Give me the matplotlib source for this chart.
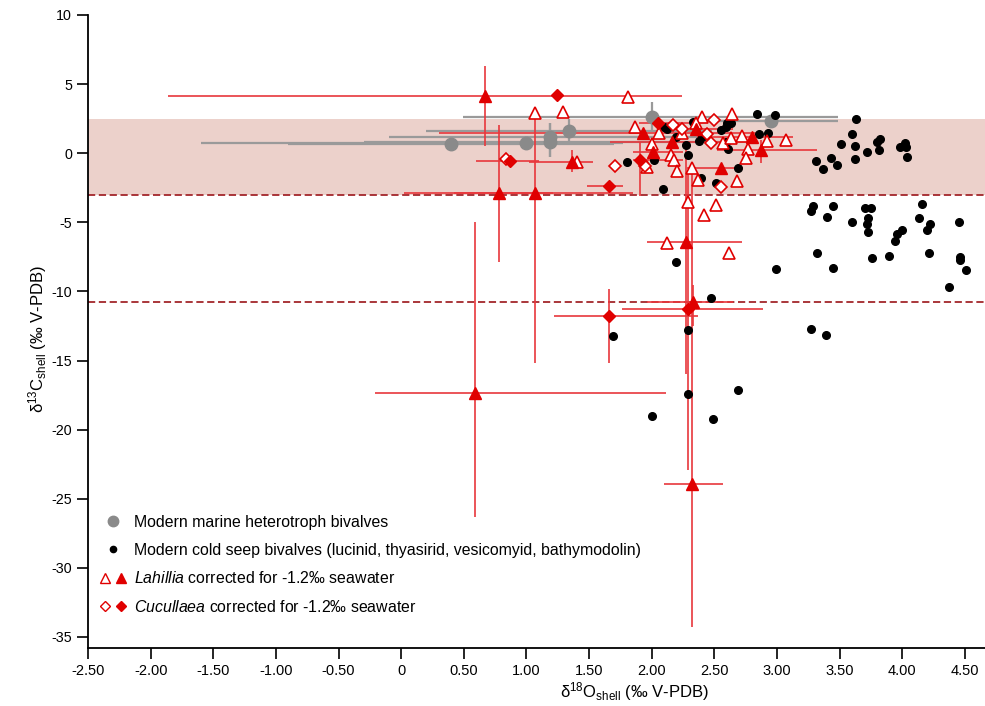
import numpy as np
import matplotlib.pyplot as plt
from matplotlib.lines import Line2D
from matplotlib.legend_handler import HandlerTuple

plt.rcParams['font.family'] = ['Liberation Sans', 'DejaVu Sans']
plt.rcParams['mathtext.fontset'] = 'custom'
plt.rcParams['mathtext.rm'] = 'Liberation Sans'
plt.rcParams['mathtext.it'] = 'Liberation Sans:italic'
plt.rcParams['axes.unicode_minus'] = False

# modern marine heterotroph bivalves (grey), with ends of the error ranges
het_x = np.array([0.40, 1.00, 1.19, 1.19, 1.34, 2.00, 2.95])
het_y = np.array([0.66, 0.74, 1.19, 0.79, 1.60, 2.60, 2.30])
het_xlo = np.array([-0.90, -1.60, -0.10, -0.30, 0.20, 0.49, 2.40])
het_xhi = np.array([1.70, 1.77, 2.48, 2.68, 2.48, 3.49, 3.49])
het_ylo = np.array([0.20, 0.40, -0.25, -0.25, 0.70, 1.60, 1.80])
het_yhi = np.array([1.10, 1.10, 2.16, 2.16, 2.50, 3.70, 2.80])

# modern cold seep bivalves (black)
seep_x = np.array([2.84, 2.98, 2.33, 2.10, 2.12, 2.60, 2.63, 2.59, 2.55, 2.86, 2.93, 2.38,
                   2.40, 2.27, 2.19, 2.61, 2.59, 2.29, 2.69, 2.39, 2.51, 2.09, 1.80, 2.02,
                   3.63, 3.60, 3.51, 3.62, 3.80, 3.82, 3.72, 3.81, 3.98, 4.02, 4.03, 4.04,
                   3.62, 3.43, 3.31, 3.37, 3.48,
                   3.29, 3.27, 3.45, 3.40, 3.70, 3.75, 3.73, 3.72, 3.73, 3.60, 4.16, 4.13,
                   4.22, 4.20, 4.00, 3.96, 3.94, 4.45, 3.32, 3.76, 3.89, 4.21, 4.46, 4.46,
                   4.51, 2.99, 3.45, 4.37, 3.27, 3.39, 2.19, 2.47, 2.29, 1.69, 2.00, 2.29,
                   2.69, 2.49])
seep_y = np.array([2.84, 2.76, 2.28, 1.87, 1.78, 2.16, 2.22, 1.92, 1.68, 1.37, 1.48, 0.90,
                   1.19, 0.59, 1.19, 0.28, 0.83, -0.13, -1.05, -1.82, -2.13, -2.60, -0.61, -0.49,
                   2.47, 1.39, 0.64, 0.54, 0.83, 1.00, 0.09, 0.25, 0.47, 0.72, 0.47, -0.25,
                   -0.42, -0.35, -0.54, -1.14, -0.88,
                   -3.80, -4.18, -3.84, -4.59, -3.94, -3.94, -4.71, -5.15, -5.72, -4.98, -3.65, -4.66,
                   -5.10, -5.56, -5.56, -5.87, -6.35, -5.00, -7.24, -7.56, -7.41, -7.24, -7.49, -7.75,
                   -8.47, -8.40, -8.28, -9.70, -12.70, -13.15, -7.90, -10.50, -12.77, -13.20, -19.00, -17.40,
                   -17.10, -19.20])

# Lahillia, filled triangles (with error ranges)
lah_x = np.array([0.67, 0.78, 1.07, 0.59, 2.32, 2.27, 2.33, 1.36, 1.93, 2.01, 2.16, 2.35, 2.80, 2.87, 2.55])
lah_y = np.array([4.14, -2.90, -2.90, -17.35, -23.90, -6.40, -10.75, -0.65, 1.47, 0.11, 0.83, 1.73, 1.15, 0.23, -1.09])
lah_xlo = np.array([-1.86, 0.02, 0.42, -0.21, 2.10, 1.96, 1.96, 1.02, 0.30, 1.85, 1.67, 2.05, 2.36, 2.52, 2.28])
lah_xhi = np.array([2.24, 1.85, 1.21, 2.11, 2.57, 2.72, 2.65, 1.53, 2.84, 2.25, 2.65, 2.65, 3.13, 3.32, 2.73])
lah_ylo = np.array([0.55, -7.85, -15.20, -26.30, -34.30, -16.00, -12.50, -1.34, 1.47, 0.11, 0.83, 1.73, 1.15, -0.70, -1.09])
lah_yhi = np.array([6.30, 2.04, 2.60, -5.00, -1.20, 0.40, -9.50, 0.23, 1.47, 0.11, 0.83, 1.73, 1.15, 0.95, -1.09])

# Lahillia, open triangles
lah_open_x = np.array([1.81, 1.07, 1.29, 1.87, 2.06, 2.40, 2.64, 2.72, 3.07, 2.92, 2.77, 2.75, 2.68, 1.40, 2.00,
                       2.15, 2.18, 2.20, 1.96, 2.32, 2.37, 2.29, 2.51, 2.42, 2.12, 2.62, 2.57, 2.63, 2.35, 2.24])
lah_open_y = np.array([4.09, 2.89, 2.95, 1.92, 1.44, 2.62, 2.84, 1.22, 0.97, 0.86, 0.30, -0.37, -2.03, -0.65, 0.66,
                       -0.13, -0.49, -1.26, -1.02, -1.09, -1.92, -3.50, -3.75, -4.47, -6.47, -7.25, 0.71, 1.08, 2.16, 1.44])

# Cucullaea, filled diamonds (with error ranges)
cuc_x = np.array([1.24, 0.87, 1.66, 1.66, 2.29, 2.05, 1.91])
cuc_y = np.array([4.22, -0.55, -2.35, -11.78, -11.30, 2.16, -0.46])
cuc_xlo = np.array([1.24, 0.60, 1.48, 1.22, 1.76, 1.90, 1.85])
cuc_xhi = np.array([1.24, 1.10, 1.77, 2.37, 2.89, 2.30, 2.25])
cuc_ylo = np.array([4.22, -0.55, -2.35, -15.20, -22.90, 2.16, -3.10])
cuc_yhi = np.array([4.22, -0.55, -2.35, -9.85, -1.20, 2.16, 0.83])

# Cucullaea, open diamonds
cuc_open_x = np.array([0.84, 1.71, 1.95, 2.17, 2.24, 2.50, 2.44, 2.47, 2.55])
cuc_open_y = np.array([-0.42, -0.93, -0.93, 2.04, 1.73, 2.40, 1.41, 0.76, -2.45])

band_lo, band_hi = -3.0, 2.5
dash_levels = [-3.0, -10.8]
xticks = np.arange(-2.5, 4.51, 0.5)
xticklabels = ['-2.50', '-2.00', '-1.50', '-1.00', '-0.50', '0', '0.50', '1.00', '1.50',
               '2.00', '2.50', '3.00', '3.50', '4.00', '4.50']
yticks = np.arange(-35, 11, 5)

red = '#e00000'
red_bar = '#e8373c'
grey = '#8a8a8a'

fig = plt.figure(figsize=(9.85, 7.06), dpi=100)
ax = fig.add_axes([88/985, 1-648/706, 1-88/985, (648-15)/706])

ax.axhspan(band_lo, band_hi, color='#ecd1cb', lw=0, zorder=0)
for lev in dash_levels:
    ax.axhline(lev, color='#a3262b', lw=1.3, dashes=(4, 2), zorder=1)

ax.errorbar(het_x, het_y, xerr=[het_x - het_xlo, het_xhi - het_x],
            yerr=[het_y - het_ylo, het_yhi - het_y], fmt='none',
            ecolor='#9a9a9a', elinewidth=1.6, zorder=2)
ax.errorbar(lah_x, lah_y, xerr=[lah_x - lah_xlo, lah_xhi - lah_x],
            yerr=[lah_y - lah_ylo, lah_yhi - lah_y], fmt='none',
            ecolor=red_bar, elinewidth=1.2, zorder=3)
ax.errorbar(cuc_x, cuc_y, xerr=[cuc_x - cuc_xlo, cuc_xhi - cuc_x],
            yerr=[cuc_y - cuc_ylo, cuc_yhi - cuc_y], fmt='none',
            ecolor=red_bar, elinewidth=1.2, zorder=3)

ax.plot(het_x, het_y, 'o', color=grey, ms=9, zorder=4)
ax.plot(seep_x, seep_y, 'o', color='black', ms=5.5, zorder=5)
ax.plot(lah_open_x, lah_open_y, '^', mfc='white', mec=red, mew=1.2, ms=8.5, zorder=6)
ax.plot(cuc_open_x, cuc_open_y, 'D', mfc='white', mec=red, mew=1.2, ms=6.5, zorder=6)
ax.plot(lah_x, lah_y, '^', color=red, ms=8.5, zorder=7)
ax.plot(cuc_x, cuc_y, 'D', color=red, ms=6.5, zorder=7)

ax.set_xlim(-2.5, 4.66)
ax.set_ylim(-35.8, 10)
ax.set_xticks(xticks)
ax.set_xticklabels(xticklabels, fontsize=10)
ax.set_yticks(yticks)
ax.tick_params(direction='out', length=8, width=1.2, labelsize=10.5)
ax.tick_params(axis='y', labelsize=10.3)
ax.spines['top'].set_visible(False)
ax.spines['right'].set_visible(False)
ax.spines['left'].set_linewidth(1.3)
ax.spines['bottom'].set_linewidth(1.3)

ax.set_xlabel(r'δ$^{18}$O$_{\rm shell}$ (‰ V-PDB)', fontsize=12)
ax.set_ylabel(r'δ$^{13}$C$_{\rm shell}$ (‰ V-PDB)', fontsize=12)
ax.xaxis.set_label_coords(0.609, -0.05)
ax.yaxis.set_label_coords(-0.044, 0.488)

h_het = Line2D([], [], ls='none', marker='o', color=grey, ms=7.5)
h_seep = Line2D([], [], ls='none', marker='o', color='black', ms=4.5)
h_lo = Line2D([], [], ls='none', marker='^', mfc='white', mec=red, mew=1, ms=7)
h_lf = Line2D([], [], ls='none', marker='^', color=red, ms=7)
h_co = Line2D([], [], ls='none', marker='D', mfc='white', mec=red, mew=1, ms=5.5)
h_cf = Line2D([], [], ls='none', marker='D', color=red, ms=5.5)
labels = ['Modern marine heterotroph bivalves',
          'Modern cold seep bivalves (lucinid, thyasirid, vesicomyid, bathymodolin)',
          r'$\mathit{Lahillia}$ corrected for -1.2‰ seawater',
          r'$\mathit{Cucullaea}$ corrected for -1.2‰ seawater']
ax.legend([h_het, h_seep, (h_lo, h_lf), (h_co, h_cf)], labels,
          handler_map={tuple: HandlerTuple(ndivide=None, pad=0.3)},
          loc='upper left', bbox_to_anchor=(99/985, 1-515/706), bbox_transform=fig.transFigure,
          frameon=False, fontsize=11.4, handlelength=1.77, handletextpad=0.45,
          labelspacing=0.8, borderpad=0, borderaxespad=0)

fig.savefig('out.png', dpi=100)
